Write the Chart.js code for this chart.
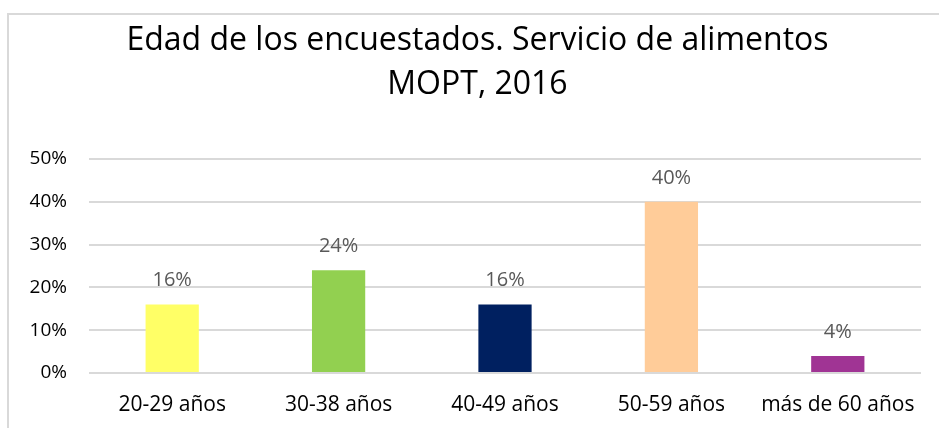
<!DOCTYPE html>
<html>
<head>
<meta charset="utf-8">
<script src="https://cdn.jsdelivr.net/npm/chart.js@4"></script>
<style>
  html, body { margin: 0; padding: 0; background: #fff; }
  .chart-container { position: relative; width: 939px; height: 428px; overflow: hidden; }
  .chart-frame {
    position: absolute; left: 7px; top: 13px; width: 960px; height: 440px;
    border-left: 2px solid #d9d9d9; border-top: 2px solid #d9d9d9;
    box-sizing: border-box;
  }
  #myChart { position: absolute; left: 0; top: 0; }
</style>
</head>
<body>
<div class="chart-container">
  <div class="chart-frame"></div>
  <canvas id="myChart" width="939" height="428"></canvas>
</div>
<script>
// age groups and share of respondents (%)
const ageGroups = ['20-29 años', '30-38 años', '40-49 años', '50-59 años', 'más de 60 años'];
const shares = [16, 24, 16, 40, 4];
const barColors = ['#FFFF66', '#92D050', '#002060', '#FFCC99', '#A03494'];
const yTicks = [0, 10, 20, 30, 40, 50];
const titleLines = ['Edad de los encuestados. Servicio de alimentos', 'MOPT, 2016'];

const FONT = '"Open Sans", "Noto Sans", sans-serif';

// writes the value above each bar
const barValueLabels = {
    id: 'barValueLabels',
    afterDatasetsDraw(chart) {
        const ctx = chart.ctx;
        const meta = chart.getDatasetMeta(0);
        ctx.save();
        ctx.font = '20px ' + FONT;
        ctx.fillStyle = '#595959';
        ctx.textAlign = 'center';
        ctx.textBaseline = 'middle';
        meta.data.forEach((bar, i) => {
            ctx.fillText(shares[i] + '%', bar.x, bar.y - 24);
        });
        ctx.restore();
    }
};

// centre the title between the frame edge and the right of the plot
const titleShift = {
    id: 'titleShift',
    afterLayout(chart) {
        if (chart.titleBlock) {
            chart.titleBlock.left = 34;
        }
    }
};

const chartData = {
    labels: ageGroups,
    datasets: [{
        data: shares,
        backgroundColor: barColors,
        borderWidth: 0,
        barPercentage: 0.32,
        categoryPercentage: 1
    }]
};

const chartOptions = {
    responsive: false,
    animation: false,
    layout: {
        padding: { left: 0, right: 18, top: 0, bottom: 0 }
    },
    scales: {
        x: {
            grid: { display: false, drawTicks: false },
            border: { display: false },
            ticks: {
                color: '#000',
                font: { family: FONT, size: 21 },
                padding: 19,
                maxRotation: 0,
                autoSkip: false
            },
            afterFit: scale => { scale.height = 55; }
        },
        y: {
            min: 0,
            max: 50,
            afterBuildTicks: scale => {
                scale.ticks = yTicks.map(v => ({ value: v }));
            },
            grid: { color: '#d9d9d9', lineWidth: 2, drawTicks: false },
            border: { display: false },
            ticks: {
                color: '#000',
                font: { family: FONT, size: 19 },
                padding: 22,
                callback: v => v + '%'
            },
            afterFit: scale => { scale.width = 89; }
        }
    },
    plugins: {
        legend: { display: false },
        tooltip: { enabled: false },
        title: {
            display: true,
            text: titleLines,
            color: '#000',
            font: { family: FONT, size: 32, weight: 'normal', lineHeight: 1.375 },
            padding: { top: 19, bottom: 52 }
        }
    }
};

const ctx = document.getElementById('myChart').getContext('2d');
new Chart(ctx, {
    type: 'bar',
    data: chartData,
    options: chartOptions,
    plugins: [barValueLabels, titleShift]
});
</script>
</body>
</html>
